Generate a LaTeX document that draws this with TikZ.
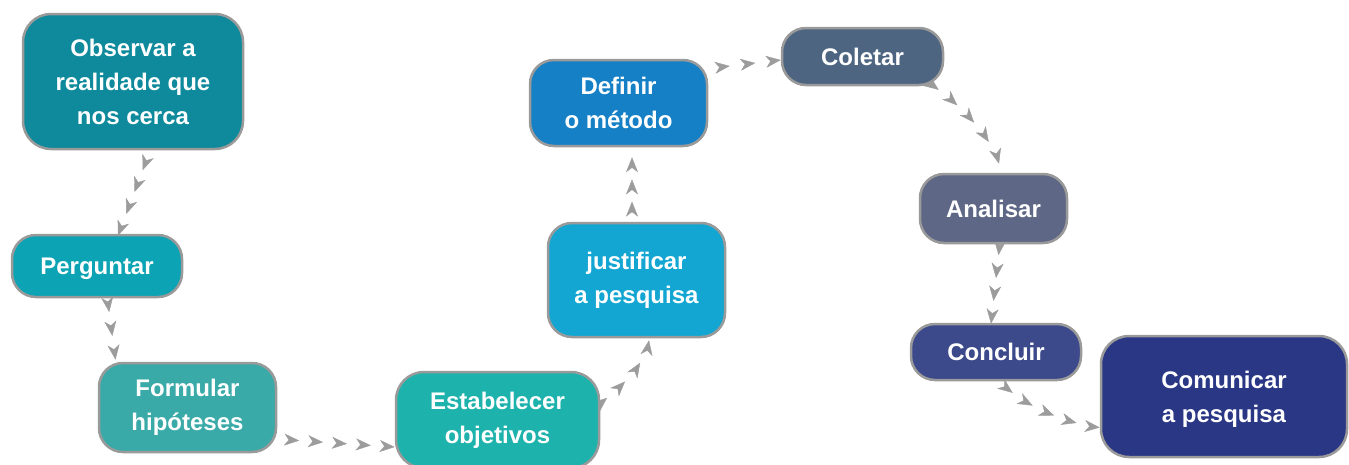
\documentclass[tikz,border=0pt]{standalone}
\usepackage{fontspec}
\setmainfont{Liberation Sans}
\usetikzlibrary{arrows.meta,decorations.markings,calc}
\definecolor{bordergray}{HTML}{9A9A9A}
\definecolor{arrowgray}{HTML}{9C9C9C}
\definecolor{cobs}{HTML}{0E8A9C}
\definecolor{cperg}{HTML}{0CA3B4}
\definecolor{cform}{HTML}{3AAAA8}
\definecolor{cest}{HTML}{1DB3AC}
\definecolor{cjust}{HTML}{13A6D3}
\definecolor{cdef}{HTML}{1580C5}
\definecolor{ccol}{HTML}{4E6582}
\definecolor{cana}{HTML}{5E6785}
\definecolor{cconc}{HTML}{3C4A8B}
\definecolor{ccom}{HTML}{2A3785}
\pgfdeclarelayer{background}
\pgfsetlayers{background,main}
\tikzset{
  box/.style={draw=bordergray, line width=2.5pt, rounded corners=24pt,
    text=white, align=center, inner sep=0pt,
    font=\fontsize{24}{34}\selectfont\bfseries},
  bigbox/.style={box, rounded corners=28pt},
  chain/.style={postaction={decorate,decoration={markings,
    mark=between positions #1 and 1 step #1 with
      {\arrow[arrowgray]{Stealth[length=15pt,width=12pt,inset=4.5pt]}}}}}
}
\begin{document}
\begin{tikzpicture}[x=1pt,y=-1pt]
\useasboundingbox (0,0) rectangle (1349,464);
\node[bigbox, fill=cobs, minimum width=220, minimum height=135] (obs) at (133,81.5) {Observar a\\realidade que\\nos cerca};
\node[box, fill=cperg, minimum width=170, minimum height=62, text depth=0pt] (perg) at (97,266) {Perguntar};
\node[box, fill=cform, minimum width=177, minimum height=89] (form) at (187.5,407.5) {Formular\\hipóteses};
\node[bigbox, fill=cest, minimum width=203, minimum height=96] (est) at (497.5,420) {Estabelecer\\objetivos};
\node[box, fill=cjust, minimum width=177, minimum height=114] (just) at (636.5,280) {justificar\\a pesquisa};
\node[box, fill=cdef, minimum width=177, minimum height=86] (def) at (618.5,103) {Definir\\o método};
\node[box, fill=ccol, minimum width=161, minimum height=57] (col) at (862.5,56.5) {Coletar};
\node[box, fill=cana, minimum width=147, minimum height=69] (ana) at (993.5,208.5) {Analisar};
\node[box, fill=cconc, minimum width=170, minimum height=56] (conc) at (996,352) {Concluir};
\node[bigbox, fill=ccom, minimum width=246, minimum height=121, text depth=-2pt] (com) at (1224,396.5) {Comunicar\\a pesquisa};
\begin{pgfonlayer}{background}
\path[chain=0.2499] ($(obs.south)+(18,-2)$) -- ($(perg.north)+(21,2)$);
\path[chain=0.3333] ($(perg.south)+(9,-10)$) -- ($(form.north)+(-72,-2)$);
\path[chain=0.1999] ($(form.east)+(-2,31.5)$) -- ($(est.west)+(0,27)$);
\path[chain=0.2499] ($(est.east)+(-12,-7)$) .. controls +(25,-20) and +(-5,30) .. ($(just.south)+(12.5,2)$);
\path[chain=0.3333] ($(just.north)+(-4.5,2)$) -- ($(def.south)+(13.5,10)$);
\path[chain=0.3333] ($(def.east)+(-4,-34)$) -- ($(col.west)+(0,3.5)$);
\path[chain=0.1999] ($(col.east)+(-26,20.5)$) .. controls +(30,15) and +(-8,-30) .. ($(ana.north)+(5.5,-9)$);
\path[chain=0.2499] ($(ana.south)+(7.5,-12)$) -- ($(conc.north)+(-5,1)$);
\path[chain=0.1999] ($(conc.south)+(0,-5)$) .. controls +(20,28) and +(-30,-3) .. ($(com.west)+(0,31)$);
\end{pgfonlayer}
\end{tikzpicture}
\end{document}
